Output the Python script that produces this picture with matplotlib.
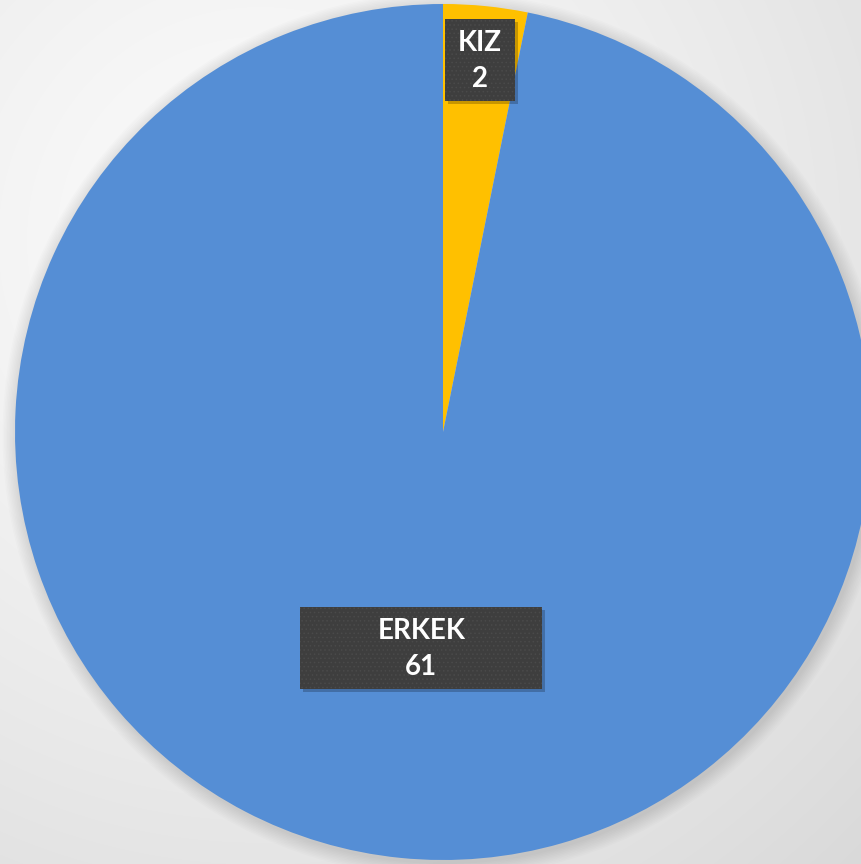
import numpy as np
import matplotlib
matplotlib.use("Agg")
import matplotlib.pyplot as plt
from matplotlib.patches import Circle, Rectangle

# Data
categories = ["KIZ", "ERKEK"]
counts = [2, 61]
colors = ["#FFC000", "#558ED5"]

plt.rcParams["hatch.linewidth"] = 0.6

W, H = 862, 864
fig = plt.figure(figsize=(W / 100, H / 100), dpi=100)

# Background: soft radial gradient
bg = fig.add_axes([0, 0, 1, 1])
yy, xx = np.mgrid[0:H, 0:W]
d = np.hypot(xx - 260, yy - 240) / 900.0
d = np.clip(d, 0, 1)
light = 0.985 - 0.14 * d ** 1.3
img = np.dstack([light, light, light])
bg.imshow(img, extent=[0, W, 0, H], origin="upper", aspect="auto")
bg.set_axis_off()

ax = fig.add_axes([0, 0, 1, 1])
ax.set_xlim(0, W)
ax.set_ylim(0, H)
ax.set_axis_off()
ax.patch.set_alpha(0)

cx, cy, R = 443, H - 432, 428

# Soft drop shadow around the pie
for k in range(10):
    ax.add_patch(Circle((cx + 2, cy - 3), R + 1 + k * 1.5, color="black",
                        alpha=0.012, lw=0, zorder=1))

wedges, _ = ax.pie(counts, colors=colors, startangle=90, counterclock=False,
                   center=(cx, cy), radius=R, frame=True,
                   wedgeprops=dict(linewidth=0, zorder=2))
ax.set_xlim(0, W)
ax.set_ylim(0, H)
ax.set_aspect("auto")
ax.set_axis_off()

# Data labels with dark boxes
label_r = [0.874, 0.507]
box_size = [(70, 82), (242, 82)]
for w, name, val, fr, (bw, bh) in zip(wedges, categories, counts, label_r, box_size):
    mid = np.deg2rad((w.theta1 + w.theta2) / 2)
    lx = cx + fr * R * np.cos(mid)
    ly = cy + fr * R * np.sin(mid)
    # shadow
    ax.add_patch(Rectangle((lx - bw / 2 + 3, ly - bh / 2 - 3), bw, bh,
                           facecolor="black", alpha=0.22, lw=0, zorder=4))
    ax.add_patch(Rectangle((lx - bw / 2, ly - bh / 2), bw, bh,
                           facecolor="#3E3E3E", edgecolor="#4A4A4A",
                           hatch="....", lw=0, zorder=5))
    ax.text(lx, ly + 17, name, color="white", fontsize=20, fontweight="bold",
            family=["Lato", "DejaVu Sans"], ha="center", va="center", zorder=6)
    ax.text(lx, ly - 19, str(val), color="white", fontsize=20, fontweight="bold",
            family=["Lato", "DejaVu Sans"], ha="center", va="center", zorder=6)

fig.savefig("out.png", dpi=100)
